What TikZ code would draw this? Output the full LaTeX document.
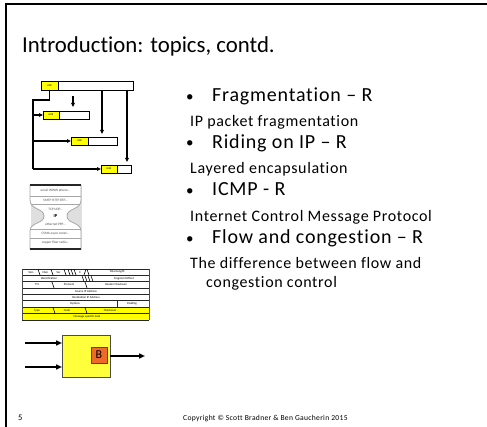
\documentclass[tikz,border=0pt]{standalone}
\usepackage{fontspec}
\setmainfont{Carlito}[Ligatures=NoCommon]
\newfontfamily\spaced{Carlito}[LetterSpace=4,Ligatures=NoCommon]
\usetikzlibrary{arrows.meta}

\definecolor{hdryellow}{HTML}{FFFF00}
\definecolor{boxyellow}{HTML}{FFFF3C}
\definecolor{borange}{HTML}{EE6A2A}
\definecolor{bborder}{HTML}{7A3A10}
\definecolor{hgline}{HTML}{A6A6A6}

\tikzset{
  titletext/.style={anchor=base west, inner sep=0, font=\fontsize{22.8}{26}\selectfont},
  bulletdot/.style={anchor=base west, inner sep=0, font=\fontsize{15}{18}\selectfont},
  itemtext/.style={anchor=base west, inner sep=0, font={\spaced\fontsize{20}{24}\selectfont}},
  subtext/.style={anchor=base west, inner sep=0, font={\spaced\fontsize{16}{19}\selectfont}},
  foottext/.style={anchor=base west, inner sep=0, font={\spaced\fontsize{7.6}{9}\selectfont}},
  hdr/.style={draw=black, fill=hdryellow, line width=0.5, inner sep=0, outer sep=0,
    anchor=north west, font=\fontsize{2.6}{3}\selectfont},
  payload/.style={draw=black, fill=white, line width=0.7, inner sep=0, outer sep=0, anchor=north west},
  flow/.style={line width=1.1, -{Triangle[length=4pt,width=3.6pt]}},
  plain/.style={line width=1.1},
  hgtext/.style={inner sep=0, text=gray!60!black, font=\fontsize{3.4}{3.6}\selectfont},
  tbl/.style={inner sep=0, font=\fontsize{3}{3.5}\selectfont},
  tblline/.style={line width=0.9, black!85},
  slant/.style={line width=0.6, black},
  router/.style={draw=gray!60!black, fill=boxyellow, line width=0.8, minimum width=48, minimum height=42, inner sep=0, outer sep=0},
  bbox/.style={draw=bborder, fill=borange, line width=0.8, minimum size=16, inner sep=0, outer sep=0,
    font=\fontsize{12}{12}\selectfont},
  bigflow/.style={line width=1.5, -{Triangle[length=6pt,width=5pt]}},
}

\begin{document}
\begin{tikzpicture}[x=1pt,y=-1pt]
\useasboundingbox (0,0) rectangle (487,427);
\fill[white] (0,0) rectangle (487,427);

% slide frame
\draw[line width=2.3] (6,427) -- (6,4) -- (487,4);

% title
\node[titletext] (title) at (22,52.5) {Introduction: topics, contd.};

% topic list
\node[bulletdot] (b1) at (186,101.5) {•};
\node[itemtext] (t1) at (212,102) {Fragmentation – R};
\node[subtext] (s1) at (190,126.5) {IP packet fragmentation};
\node[bulletdot] (b2) at (186,148) {•};
\node[itemtext] (t2) at (212,148.5) {Riding on IP – R};
\node[subtext] (s2) at (190,173.5) {Layered encapsulation};
\node[bulletdot] (b3) at (186,195.5) {•};
\node[itemtext] (t3) at (212,196) {ICMP - R};
\node[subtext] (s3) at (190,221.5) {Internet Control Message Protocol};
\node[bulletdot] (b4) at (186,243.5) {•};
\node[itemtext] (t4) at (212,244) {Flow and congestion – R};
\node[subtext] (s4a) at (190,268.5) {The difference between flow and};
\node[subtext] (s4b) at (206,287.5) {congestion control};

% footer
\node[anchor=base west, inner sep=0, font=\fontsize{8.5}{9}\selectfont] (pg) at (18,420) {5};
\node[foottext] (copy) at (183,420) {Copyright © Scott Bradner \& Ben Gaucherin 2015};

% ---- fragmentation sketch ----
\node[hdr, minimum width=17, minimum height=9] (h0) at (41,81) {HDR};
\node[payload, minimum width=75, minimum height=9] (p0) at (h0.north east) {};
\node[hdr, minimum width=16, minimum height=8] (h1) at (43,111) {HDR};
\node[payload, minimum width=30, minimum height=8] (p1) at (h1.north east) {};
\node[hdr, minimum width=17, minimum height=8] (h2) at (71,137) {HDR};
\node[payload, minimum width=29, minimum height=8] (p2) at (h2.north east) {};
\node[hdr, minimum width=16, minimum height=8] (h3) at (101,165) {HDR};
\node[payload, minimum width=14, minimum height=8] (p3) at (h3.north east) {};

\coordinate (bend) at (33,100);
\coordinate (corner) at (33,169);
\draw[plain] (h0.south) |- (bend) -- (corner);
\draw[flow] (corner) -- (h3.west);
\draw[flow] (bend |- h1.west) -- (h1.west);
\draw[flow] (bend |- h2.west) -- (h2.west);
\coordinate (v1a) at (73,96);
\coordinate (v1b) at (73,107);
\draw[flow] (v1a) -- (v1b);
\coordinate (v2) at (102,134);
\draw[flow] (p0.south -| v2) -- (v2);
\coordinate (v3) at (127,162);
\draw[flow] (p0.south -| v3) -- (v3);

% ---- hourglass of layers ----
\def\hgpath{(30,185) -- (30,200) .. controls (30,210) and (44,208) .. (44,216)
  .. controls (44,224) and (30,222) .. (30,231) -- (30,249) -- (81,249) -- (81,231)
  .. controls (81,222) and (67,224) .. (67,216) .. controls (67,208) and (81,210) .. (81,200)
  -- (81,185) -- cycle}
\fill[gray!25] (31.2,186.2) -- (31.2,250.2) -- (82.2,250.2) -- (82.2,186.2) -- cycle;
\path[draw=hgline, fill=white, line width=0.8] \hgpath;
\begin{scope}
  \clip \hgpath;
  \foreach \yy in {196,204,229,238}
    \draw[hgline, line width=0.5] (28,\yy) -- (83,\yy);
\end{scope}
\draw[line width=1.6, black!85] (30,185) -- (81,185);
\draw[line width=1.6, black!85] (30,249) -- (81,249);
\node[hgtext] (l1) at (55.5,191) {email WWW phone...};
\node[hgtext] (l2) at (55.5,200) {SMTP HTTP RTP...};
\node[hgtext] (l3) at (55.5,209) {TCP UDP...};
\node[inner sep=0, font=\bfseries\fontsize{4.5}{5}\selectfont] (l4) at (55.5,216) {IP};
\node[hgtext] (l5) at (55.5,224) {ethernet PPP...};
\node[hgtext] (l6) at (55.5,233.5) {CSMA async sonet...};
\node[hgtext] (l7) at (55.5,243) {copper fiber radio...};

% ---- IP / ICMP header layout ----
\fill[hdryellow] (22,307.25) rectangle (149,320);
\foreach \yy in {269,275.375,281.75,288.125,294.5,300.875,307.25,313.625,320}
  \draw[tblline] (22,\yy) -- (149,\yy);
\draw[line width=0.6, black!70] (22,269) -- (22,320);
\draw[line width=0.6, black!70] (149,269) -- (149,320);
% row 1
\foreach \xx in {39,52,65,69,72,75,88}
  \draw[slant] (\xx-1,269.4) -- (\xx+1,275);
\draw[slant] (84,275) -- (86,269.4);
\node[tbl] at (31,272.2) {Vers};
\node[tbl] at (45.5,272.2) {Hlen};
\node[tbl] at (58.5,272.2) {Svc};
\node[tbl] at (80,272.2) {E};
\node[tbl] at (117,272.2) {Total Length};
% row 2
\foreach \xx in {83,86,89,92}
  \draw[slant] (\xx-1,275.8) -- (\xx+1,281.4);
\node[tbl] at (49,278.6) {Identification};
\node[tbl] at (124,278.6) {Fragment Offset};
% row 3
\foreach \xx in {53,86}
  \draw[slant] (\xx-1,282.1) -- (\xx+1,287.8);
\node[tbl] at (37,284.9) {TTL};
\node[tbl] at (69,284.9) {Protocol};
\node[tbl] at (116,284.9) {Header Checksum};
% rows 4-6
\node[tbl] at (86,291.3) {Source IP Address};
\node[tbl] at (86,297.7) {Destination IP Address};
\draw[tblline] (117,300.875) -- (117,307.25);
\node[tbl] at (75,304.1) {Options};
\node[tbl] at (132,304.1) {Padding};
% rows 7-8 (ICMP)
\foreach \xx in {54,86}
  \draw[slant] (\xx-1,307.6) -- (\xx+1,313.3);
\node[tbl] at (37,310.4) {Type};
\node[tbl] at (67,310.4) {Code};
\node[tbl] at (110,310.4) {Checksum};
\node[tbl] at (87,316.8) {Message specific data};

% ---- router with two inputs ----
\node[router] (rt) at (86,356) {};
\node[bbox] (bb) at (99,355) {B};
\coordinate (in1) at (25,343);
\coordinate (in2) at (25,367);
\coordinate (out) at (145,356);
\draw[bigflow] (in1) -- (in1 -| rt.west);
\draw[bigflow] (in2) -- (in2 -| rt.west);
\draw[bigflow] (rt.east |- out) -- (out);
\end{tikzpicture}
\end{document}
